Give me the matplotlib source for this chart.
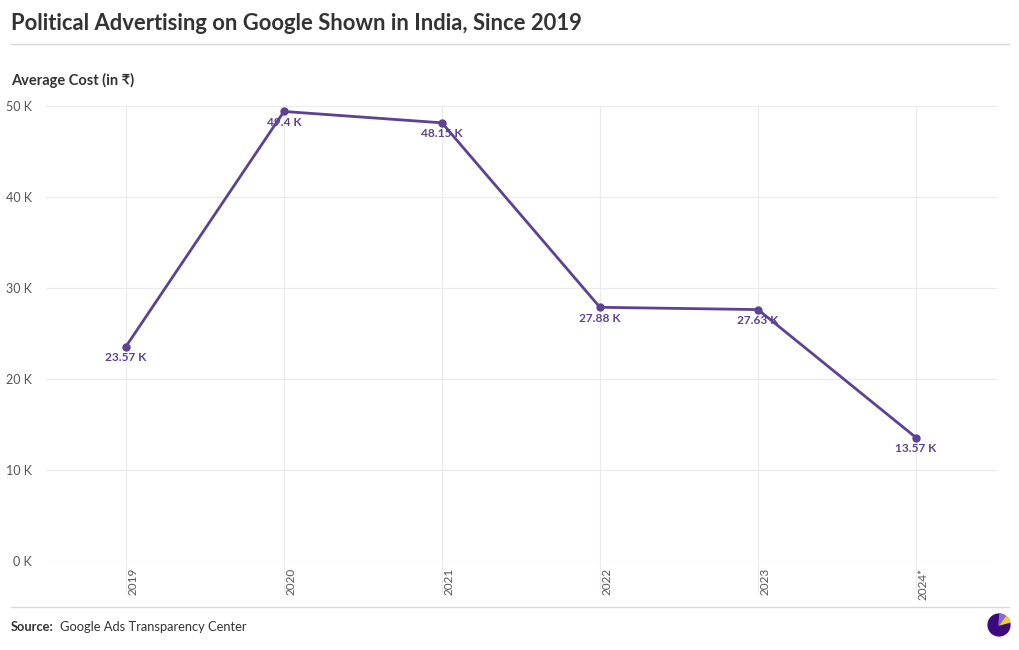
import numpy as np
import matplotlib.pyplot as plt
from matplotlib.patches import Wedge, Circle
from matplotlib.lines import Line2D
import matplotlib.transforms as mtransforms

plt.rcParams['font.family'] = ['Lato', 'DejaVu Sans']

# data
years = ['2019', '2020', '2021', '2022', '2023', '2024*']
avg_cost = [23570, 49400, 48150, 27880, 27630, 13570]
cost_labels = ['23.57 K', '49.4 K', '48.15 K', '27.88 K', '27.63 K', '13.57 K']
yticks = [0, 10000, 20000, 30000, 40000, 50000]
ytick_labels = ['0 K', '10 K', '20 K', '30 K', '40 K', '50 K']

purple = '#5c4290'
grid_c = '#ebebeb'
text_c = '#333333'

W, H = 1020, 650
fig = plt.figure(figsize=(W / 100, H / 100), dpi=100)
ax = fig.add_axes([46 / W, 1 - 561 / H, (997 - 46) / W, (561 - 106) / H])

x = np.arange(len(years))
for xi, v, lab in zip(x, avg_cost, cost_labels):
    ax.annotate(lab, (xi, v), xytext=(0, -11), textcoords='offset pixels',
                ha='center', va='center', fontsize=8.6, fontweight='bold',
                color=purple, zorder=2)
ax.plot(x, avg_cost, color=purple, lw=2, marker='o', ms=5, clip_on=False, zorder=3)

ax.set_xlim(-0.506, 5.513)
ax.set_ylim(0, 50000)
ax.set_yticks(yticks, ytick_labels)
ax.set_xticks(x, years, rotation=90, fontsize=8.5, color='#555555', va='top')
ax.tick_params(axis='y', length=0, pad=10, labelsize=9, labelcolor='#555555')
ax.tick_params(axis='x', length=0, pad=5)
offset = mtransforms.ScaledTranslation(7 / 100, 0, fig.dpi_scale_trans)
for t in ax.get_xticklabels():
    t.set_transform(t.get_transform() + offset)
ax.grid(True, color=grid_c, lw=0.8)
ax.set_axisbelow(True)
for s in ax.spines.values():
    s.set_visible(False)
# vertical grid lines run on below the zero line
ax.vlines(x, -3400, 0, color=grid_c, lw=0.8, clip_on=False, zorder=0)

# title, subtitle, footer
fig.text(11 / W, 1 - 24 / H, 'Political Advertising on Google Shown in India, Since 2019',
         fontsize=15.8, fontweight='bold', color=text_c, va='center', ha='left')
fig.add_artist(Line2D([11 / W, 1009 / W], [1 - 44 / H, 1 - 44 / H], color='#d9d9d9', lw=1))
fig.text(11 / W, 1 - 80 / H, 'Average Cost (in ₹)', fontsize=10.5, fontweight='bold',
         color=text_c, va='center', ha='left')
fig.add_artist(Line2D([11 / W, 1009 / W], [1 - 607 / H, 1 - 607 / H], color='#d9d9d9', lw=1))
fig.text(11 / W, 1 - 627 / H, 'Source:', fontsize=9.3, fontweight='bold',
         color=text_c, va='center', ha='left')
fig.text(60 / W, 1 - 627 / H, 'Google Ads Transparency Center', fontsize=9.3,
         color=text_c, va='center', ha='left')

# small logo
lax = fig.add_axes([987 / W, 1 - 637 / H, 24 / W, 24 / H])
lax.set_xlim(-1.1, 1.1)
lax.set_ylim(-1.1, 1.1)
lax.set_aspect('equal')
lax.axis('off')
lax.add_patch(Circle((0, 0), 1, color='#3b0a80'))
lax.add_patch(Wedge((0, 0), 1, 15, 55, color='#f5d020'))
lax.add_patch(Wedge((0, 0), 1, 55, 85, color='#8a6cc8'))

fig.savefig('out.png', dpi=100)
